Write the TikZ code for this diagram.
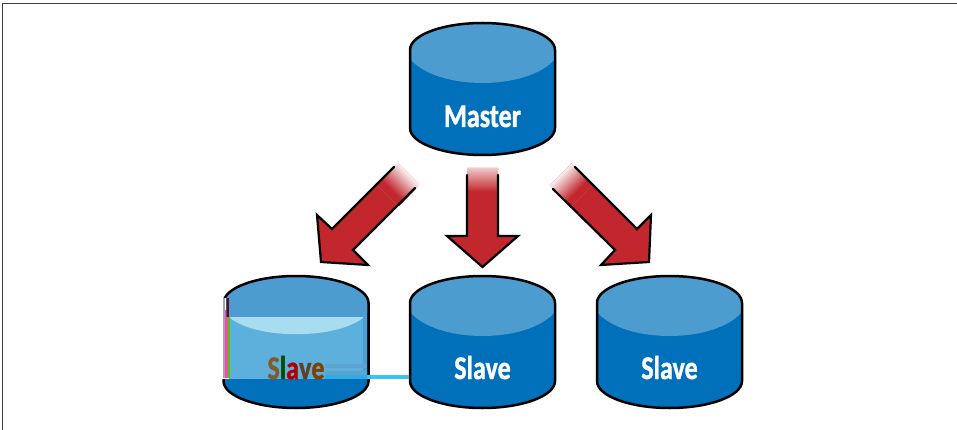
\documentclass[tikz,border=0pt]{standalone}
\usepackage{fontspec}
\setmainfont{Carlito}[BoldFeatures={FakeBold=1.4}]
\definecolor{dbdark}{HTML}{0070BB}
\definecolor{dblight}{HTML}{4D9CD0}
\definecolor{arrowred}{HTML}{C1272D}
\definecolor{panelblue}{HTML}{5DAFDC}
\definecolor{crescent}{HTML}{A8DDF0}
\tikzset{
  x=1pt,y=-1pt,
  dbline/.style={draw=black,line width=2.5pt,line join=round},
  arrowline/.style={draw=black,line width=2.2pt,line join=miter,line cap=round},
  dblabel/.style={text=white,font=\bfseries\fontsize{33}{33}\selectfont,inner sep=0pt,anchor=base},
}
\newcommand{\dbcyl}[2]{%
  \fill[dbdark] (#1-72.5,#2) arc[start angle=180,end angle=0,x radius=72.5pt,y radius=27pt]
    -- (#1+72.5,#2+78) arc[start angle=0,end angle=-180,x radius=72.5pt,y radius=27pt] -- cycle;
  \fill[dblight] (#1-72.5,#2+9) .. controls (#1-45,#2+41) and (#1+45,#2+41) .. (#1+72.5,#2+9)
    -- (#1+72.5,#2) arc[start angle=0,end angle=180,x radius=72.5pt,y radius=27pt] -- cycle;
  \path[dbline] (#1-72.5,#2) arc[start angle=180,end angle=0,x radius=72.5pt,y radius=27pt]
    -- (#1+72.5,#2+78) arc[start angle=0,end angle=-180,x radius=72.5pt,y radius=27pt] -- cycle;
}
\newcommand{\tailfade}[4]{%
  \begin{scope}[shift={(#1,#2)},rotate=#3]
    \foreach \t in {#4,...,100}{
      \fill[arrowred!\t!white] (-15.5,{(\t-#4)*24/(100-#4)}) rectangle (15.5,30);
    }
  \end{scope}
}
\begin{document}
\begin{tikzpicture}
\useasboundingbox (0,0) rectangle (957,430);
\fill[white] (0,0) rectangle (957,430);
\draw[line width=1.2pt,draw=black!75] (2.5,430) -- (2.5,3.3) -- (957,3.3);

\dbcyl{482.5}{50}
\dbcyl{482.5}{303}
\dbcyl{669.5}{303}
\dbcyl{296}{303}

% damaged panel of left slave
\fill[panelblue] (228,317) rectangle (367,379);
\fill[crescent] (229,317) .. controls (255,340) and (337,340) .. (364,317) -- cycle;
\fill[dblight!85!panelblue] (363,312) rectangle (367,379);
\fill[white] (222,298) rectangle (228.5,379);
\fill[black!35] (223,298) rectangle (225,378);
\fill[magenta!70!white] (225,310) rectangle (227.5,378);
\fill[green!70!black!70!yellow] (227.5,317) rectangle (229.5,378);
\fill[dbdark] (226,298) rectangle (227,317);
\fill[red!50!black] (227,298) rectangle (228.5,317);
\fill[cyan!25!panelblue] (325,364) rectangle (367,368);
\fill[cyan!25!panelblue] (325,371) rectangle (367,375);
\fill[cyan!60!panelblue] (325,375) rectangle (367,379);
\fill[cyan!75!white] (367,375) rectangle (409,379);

% arrows
\fill[arrowred] (482.5,168) -- (498,168) -- (498,236) -- (518,236) -- (482.5,267) -- (447,236) -- (467,236) -- (467,168) -- cycle;
\tailfade{482.5}{168}{0}{25}
\draw[arrowline] (498,175) -- (498,236) -- (518,236) -- (482.5,267) -- (447,236) -- (467,236) -- (467,175);

\fill[arrowred] (398,163) -- (419,184) -- (353,250) -- (368,265) -- (321,262) -- (317,215) -- (332,229) -- cycle;
\tailfade{408.75}{173.75}{-45}{5}
\draw[arrowline] (394,167) -- (332,229) -- (317,215) -- (321,262) -- (368,265) -- (353,250) -- (415,188);

\fill[arrowred] (571.5,163.5) -- (549.5,185.5) -- (615,250) -- (601,265) -- (649,262) -- (651,215) -- (637,229) -- cycle;
\tailfade{560.5}{174.5}{45}{5}
\draw[arrowline] (575,167) -- (637,229) -- (651,215) -- (649,262) -- (601,265) -- (615,250) -- (553,189);

% labels
\node[dblabel] (master) at (482.5,127) {\scalebox{0.79}[1]{Master}};
\node[dblabel] (slaveb) at (482.5,379) {\scalebox{0.79}[1]{Slave}};
\node[dblabel] (slavec) at (669.5,379) {\scalebox{0.79}[1]{Slave}};
\node[dblabel] (slavea) at (296,379) {\scalebox{0.79}[1]{\textcolor{brown!70!black}{S}\textcolor{green!30!black}{l}\textcolor{red!70!black}{a}\textcolor{brown!50!black}{v}\textcolor{orange!50!black}{e}}};
\end{tikzpicture}
\end{document}
